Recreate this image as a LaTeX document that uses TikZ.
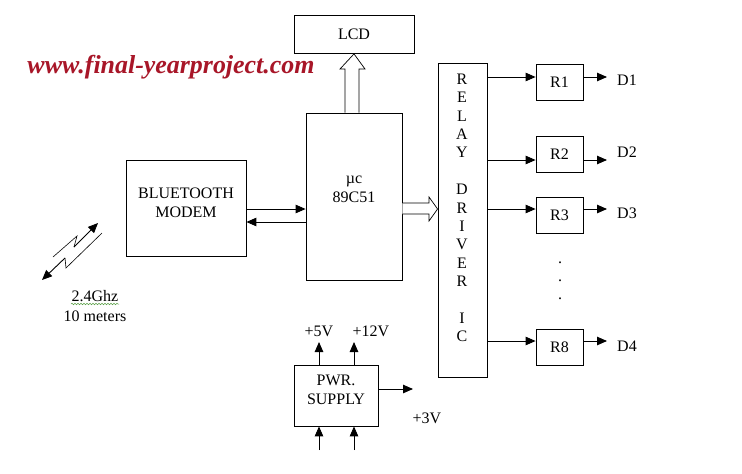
\documentclass[tikz,border=0pt]{standalone}
\usepackage{fontspec}
\setmainfont{Liberation Serif}
\usepackage{graphicx}
\usetikzlibrary{arrows.meta,decorations.pathmorphing}
\definecolor{wmred}{RGB}{168,22,40}
\definecolor{spellgreen}{RGB}{90,160,70}
\begin{document}
\begin{tikzpicture}[x=1pt,y=-1pt,
  box/.style={draw,line width=0.8pt,inner sep=0pt,align=center,font=\fontsize{16}{19}\selectfont},
  lbl/.style={inner sep=0pt,align=center,font=\fontsize{16}{19.5}\selectfont},
  arr/.style={line width=0.9pt,-{Triangle[length=10pt,width=8.5pt]}},
  thinl/.style={line width=0.6pt},
  hollow/.style={draw,line width=0.7pt,fill=white}]
\useasboundingbox (0,0) rectangle (742,474);
\fill[white] (0,0) rectangle (742,474);

% watermark
\node[inner sep=0pt,text=wmred] (wm) at (171,67)
  {\resizebox{287pt}{!}{\bfseries\itshape www.final-yearproject.com}};

% main boxes
\node[box,minimum width=120pt,minimum height=38pt] (lcd) at (354,34.5) {LCD};
\node[box,minimum width=96pt,minimum height=167pt] (mc) at (354,196.5) {};
\node[lbl] (mct) at (354,189.5) {µc\\89C51};
\node[box,minimum width=120pt,minimum height=96pt] (bt) at (186,208) {};
\node[lbl] (btt) at (186,203) {BLUETOOTH\\MODEM};
\node[box,minimum width=49pt,minimum height=314pt] (relay) at (462.5,220) {};
\foreach \ch [count=\i from 0] in {R,E,L,A,Y,{},D,R,I,V,E,R,{},I,C}
  \node[lbl] (rl\i) at (462,79+18.4*\i) {\ch};

% relay outputs
\node[box,minimum width=47pt,minimum height=36pt] (r1) at (559.5,82) {R1};
\node[box,minimum width=47pt,minimum height=36pt] (r2) at (559.5,154.5) {R2};
\node[box,minimum width=47pt,minimum height=36pt] (r3) at (559.5,215) {R3};
\node[box,minimum width=47pt,minimum height=36pt] (r8) at (559.5,347) {R8};
\node[lbl] (d1) at (627,80) {D1};
\node[lbl] (d2) at (627,152) {D2};
\node[lbl] (d3) at (627,213) {D3};
\node[lbl] (d4) at (627,346) {D4};
\foreach \yy [count=\k] in {263,281,299}
  \node[lbl] (dot\k) at (560,\yy) {.};

\coordinate (y1) at (0,77);
\coordinate (y2) at (0,160);
\coordinate (y3) at (0,209);
\coordinate (y8) at (0,341);
\coordinate (xo) at (607,0);
\foreach \r/\d/\yy in {r1/d1/y1,r2/d2/y2,r3/d3/y3,r8/d4/y8}{
  \draw[arr] (relay.east |- \yy) -- (\r.west |- \yy);
  \draw[arr] (\r.east |- \yy) -- (xo |- \yy);
}

% bluetooth <-> uC
\coordinate (ya) at (0,209);
\coordinate (yb) at (0,222);
\draw[arr] (bt.east |- ya) -- (mc.west |- ya);
\draw[arr] (mc.west |- yb) -- (bt.east |- yb);

% hollow arrow uC -> LCD
\draw[hollow] (mc.north -| 345,0) -- (345,69) -- (340,69) -- (lcd.south) -- (365,69) -- (359,69) -- (mc.north -| 359,0);
% hollow arrow uC -> relay
\draw[hollow] (mc.east |- 0,203) -- (429,203) -- (429,197) -- (relay.west |- 0,209) -- (429,221) -- (429,214) -- (mc.east |- 0,214);

% power supply
\node[box,minimum width=84pt,minimum height=61pt] (pwr) at (336,395.5) {};
\node[lbl] (pwrt) at (336,390) {PWR.\\SUPPLY};
\node[lbl] (v5) at (319,331) {+5V};
\node[lbl] (v12) at (371,331) {+12V};
\node[lbl] (v3) at (427,418) {+3V};
\coordinate (xa) at (319,0);
\coordinate (xb) at (354,0);
\coordinate (t5) at (319,342);
\coordinate (t12) at (354,342);
\coordinate (t3) at (413,389);
\coordinate (b5) at (319,450);
\coordinate (b12) at (354,450);
\draw[arr] (pwr.north -| xa) -- (t5);
\draw[arr] (pwr.north -| xb) -- (t12);
\draw[arr] (pwr.east |- t3) -- (t3);
\draw[arr] (b5) -- (pwr.south -| xa);
\draw[arr] (b12) -- (pwr.south -| xb);

% wireless symbol
\draw[thinl] (53,257) -- (77,236) -- (74,247);
\draw[arr] (74,247) -- (98,223);
\draw[arr] (65,258) -- (42,280);
\draw[thinl] (65,258) -- (66,268) -- (102,233);
\node[lbl] (ghz) at (95,296) {2.4Ghz};
\node[lbl] (m10) at (95,316) {10 meters};
\draw[spellgreen,line width=0.5pt,decorate,decoration={snake,segment length=3pt,amplitude=0.8pt}] (71,304) -- (119,304);
\end{tikzpicture}
\end{document}
